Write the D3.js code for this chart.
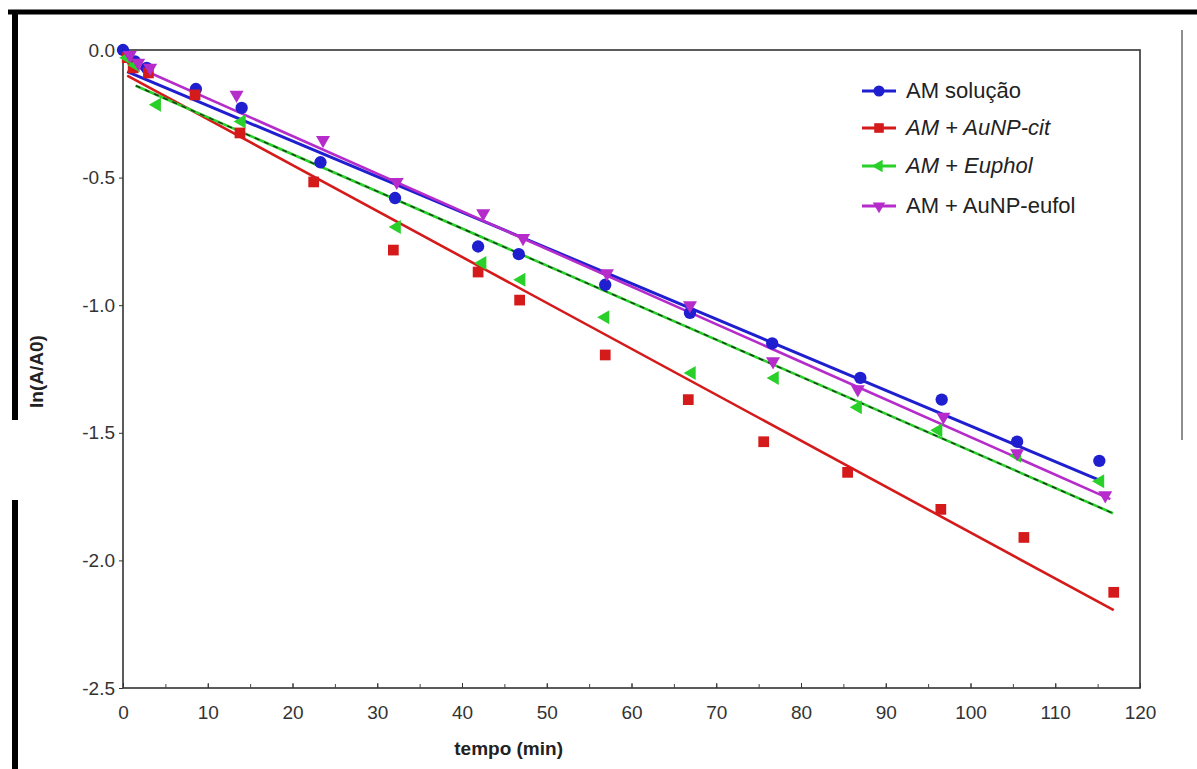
<!DOCTYPE html>
<html>
<head>
<meta charset="utf-8">
<script src="https://cdn.jsdelivr.net/npm/d3@7"></script>
<style>
  body { margin: 0; background: #fff; }
  text { font-family: "Liberation Sans", Arial, sans-serif; }
</style>
</head>
<body>
<div id="chart"></div>
<script>
// series values
const seriesNames = ['AM solução', 'AM + AuNP-cit', 'AM + Euphol', 'AM + AuNP-eufol'];
const seriesColors = ['#1f1fd0', '#d41a1a', '#2ad02a', '#b52ccb'];

const blueT = [0, 1.4, 2.8, 8.6, 14, 23.3, 32.1, 41.9, 46.7, 56.9, 66.9, 76.6, 87, 96.6, 105.5, 115.2];
const blueV = [0, -0.045, -0.07, -0.153, -0.227, -0.44, -0.58, -0.77, -0.80, -0.92, -1.03, -1.15, -1.285, -1.37, -1.535, -1.61];

const redT = [0.5, 1.2, 3, 8.5, 13.8, 22.5, 31.9, 41.9, 46.8, 56.9, 66.7, 75.6, 85.5, 96.5, 106.3, 116.9];
const redV = [-0.03, -0.07, -0.09, -0.176, -0.325, -0.517, -0.784, -0.87, -0.98, -1.195, -1.37, -1.535, -1.655, -1.80, -1.91, -2.125];

const greenT = [0.5, 1.5, 4, 14, 32.3, 42.4, 47, 56.9, 67.1, 76.9, 86.7, 96.2, 105.5, 115.3];
const greenV = [-0.03, -0.06, -0.215, -0.28, -0.694, -0.835, -0.90, -1.047, -1.266, -1.285, -1.40, -1.49, -1.59, -1.69];

const purpleT = [0.8, 1.8, 3.2, 13.4, 23.6, 32.3, 42.5, 47.2, 57.1, 66.9, 76.7, 86.7, 96.8, 105.5, 115.9];
const purpleV = [-0.02, -0.05, -0.07, -0.176, -0.353, -0.517, -0.64, -0.737, -0.875, -1.0, -1.22, -1.33, -1.437, -1.58, -1.745];

// fitted lines [t start, v start, t end, v end]
const blueFit = [0.5, -0.085, 115.2, -1.685];
const redFit = [0.5, -0.10, 116.9, -2.195];
const greenFit = [1.5, -0.14, 116.8, -1.815];
const purpleFit = [0.5, -0.05, 116.5, -1.76];

const xTicks = d3.range(0, 121, 10);
const yTicks = [0, -0.5, -1.0, -1.5, -2.0, -2.5];

const series = [
    { name: seriesNames[0], color: seriesColors[0], t: blueT, v: blueV, fit: blueFit, symbol: d3.symbolCircle, rot: 0, size: 120 },
    { name: seriesNames[1], color: seriesColors[1], t: redT, v: redV, fit: redFit, symbol: d3.symbolSquare, rot: 0, size: 115 },
    { name: seriesNames[2], color: seriesColors[2], t: greenT, v: greenV, fit: greenFit, symbol: d3.symbolTriangle, rot: -90, size: 85 },
    { name: seriesNames[3], color: seriesColors[3], t: purpleT, v: purpleV, fit: purpleFit, symbol: d3.symbolTriangle, rot: 180, size: 85 }
];

const W = 1197, H = 769;
const margin = { top: 50, right: 57, bottom: 81, left: 123 },
    width = W - margin.left - margin.right,
    height = H - margin.top - margin.bottom;

const root = d3.select('#chart')
    .append('svg')
    .attr('width', W)
    .attr('height', H);

// scanned page edges
root.append('line')
    .attr('x1', 8).attr('x2', W)
    .attr('y1', 12).attr('y2', 12)
    .attr('stroke', '#000')
    .attr('stroke-width', 5);
root.append('line')
    .attr('x1', 15).attr('x2', 15)
    .attr('y1', 12).attr('y2', 420)
    .attr('stroke', '#000')
    .attr('stroke-width', 6);
root.append('line')
    .attr('x1', 15).attr('x2', 15)
    .attr('y1', 500).attr('y2', H)
    .attr('stroke', '#000')
    .attr('stroke-width', 6);
root.append('line')
    .attr('x1', 1182).attr('x2', 1182)
    .attr('y1', 30).attr('y2', 440)
    .attr('stroke', '#444')
    .attr('stroke-width', 1.2);

const svg = root.append('g')
    .attr('transform', 'translate(' + margin.left + ',' + margin.top + ')');

const xScale = d3.scaleLinear()
    .domain([0, 120])
    .range([0, width]);

const yScale = d3.scaleLinear()
    .domain([0, -2.5])
    .range([0, height]);

// frame
svg.append('rect')
    .attr('width', width)
    .attr('height', height)
    .attr('fill', 'none')
    .attr('stroke', '#333')
    .attr('stroke-width', 1.6);

// x axis with minor ticks
svg.append('g')
    .attr('transform', 'translate(0,' + height + ')')
    .call(d3.axisBottom(xScale).tickValues(d3.range(0, 121, 5)).tickSize(-4).tickFormat(''))
    .call(g => g.select('.domain').remove())
    .call(g => g.selectAll('line').attr('stroke', '#444'));

svg.append('g')
    .attr('transform', 'translate(0,' + height + ')')
    .call(d3.axisBottom(xScale).tickValues(xTicks).tickSize(-5).tickPadding(18))
    .call(g => g.select('.domain').remove())
    .call(g => g.selectAll('line').attr('stroke', '#333'))
    .call(g => g.selectAll('text')
        .attr('font-size', 19)
        .attr('fill', '#333')
        .style('font-family', '"Liberation Sans", Arial, sans-serif'));

svg.append('g')
    .call(d3.axisLeft(yScale).tickValues(yTicks).tickSize(4).tickPadding(4).tickFormat(d3.format('.1f')))
    .call(g => g.select('.domain').remove())
    .call(g => g.selectAll('line').attr('stroke', '#333'))
    .call(g => g.selectAll('text')
        .attr('font-size', 19)
        .attr('fill', '#333')
        .text(d => d3.format('.1f')(d).replace('−', '-'))
        .style('font-family', '"Liberation Sans", Arial, sans-serif'));

// axis labels
svg.append('text')
    .attr('text-anchor', 'middle')
    .attr('x', xScale(45.5))
    .attr('y', height + 67)
    .attr('font-size', 19)
    .attr('font-weight', 'bold')
    .attr('fill', '#222')
    .text('tempo (min)');

svg.append('text')
    .attr('text-anchor', 'middle')
    .attr('transform', 'translate(' + (-80) + ',' + yScale(-1.26) + ') rotate(-90)')
    .attr('font-size', 19)
    .attr('font-weight', 'bold')
    .attr('fill', '#222')
    .text('ln(A/A0)');

// fit lines
series.forEach((s, i) => {
    const pts = [[s.fit[0], s.fit[1]], [s.fit[2], s.fit[3]]];
    const line = d3.line().x(d => xScale(d[0])).y(d => yScale(d[1]));
    svg.append('path')
        .datum(pts)
        .attr('d', line)
        .attr('fill', 'none')
        .attr('stroke', s.color)
        .attr('stroke-width', i === 0 ? 3 : 2.6);
    if (i === 2) {
        // green fit has a dark dashed overlay
        svg.append('path')
            .datum(pts)
            .attr('d', line)
            .attr('fill', 'none')
            .attr('stroke', '#1a3a1a')
            .attr('stroke-width', 1.4)
            .attr('stroke-dasharray', '5,5');
    }
});

// points
series.forEach(s => {
    const sym = d3.symbol().type(s.symbol).size(s.size);
    svg.append('g')
        .selectAll('path')
        .data(s.t.map((t, j) => [t, s.v[j]]))
        .enter()
        .append('path')
        .attr('d', sym)
        .attr('transform', d => 'translate(' + xScale(d[0]) + ',' + yScale(d[1]) + ') rotate(' + s.rot + ')')
        .attr('fill', s.color);
});

// legend
const legend = svg.append('g')
    .attr('transform', 'translate(' + (862 - margin.left) + ',' + (91 - margin.top) + ')');

series.forEach((s, i) => {
    const row = legend.append('g')
        .attr('transform', 'translate(0,' + [0, 37, 75, 115][i] + ')');
    row.append('line')
        .attr('x1', 0).attr('x2', 34)
        .attr('stroke', s.color)
        .attr('stroke-width', 3);
    row.append('path')
        .attr('d', d3.symbol().type(s.symbol).size(s.size * 0.8))
        .attr('transform', 'translate(17,0) rotate(' + s.rot + ')')
        .attr('fill', s.color);
    row.append('text')
        .attr('x', 44)
        .attr('y', 7)
        .attr('font-size', 22)
        .attr('fill', '#222')
        .style('font-style', (i === 1 || i === 2) ? 'italic' : 'normal')
        .text(s.name);
});
</script>
</body>
</html>
